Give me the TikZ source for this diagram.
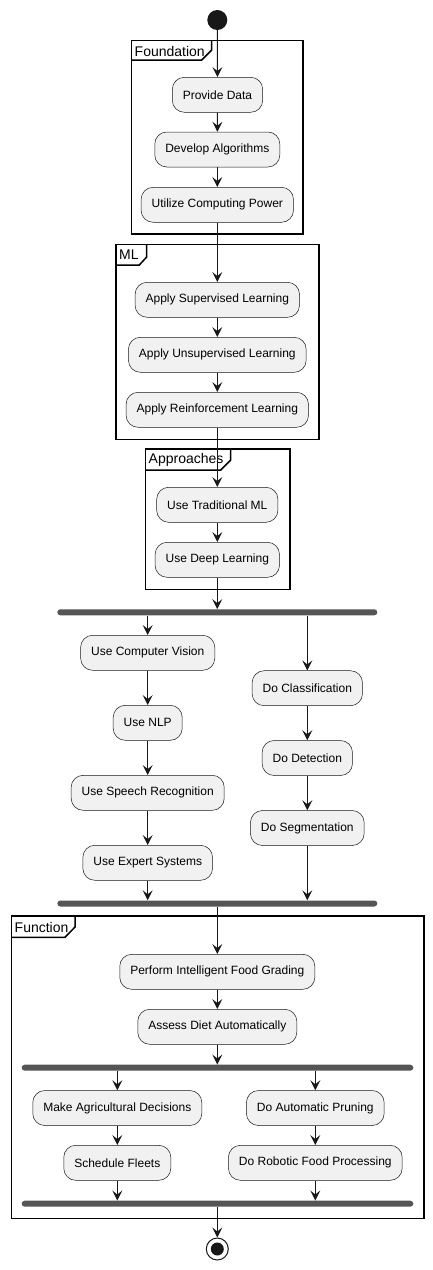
\documentclass[tikz,border=0pt]{standalone}
\usepackage{fontspec}
\setmainfont{Liberation Sans}
\usetikzlibrary{arrows.meta}
\definecolor{boxfill}{HTML}{F1F1F1}
\definecolor{boxline}{HTML}{181818}
\definecolor{barfill}{HTML}{555555}
\begin{document}
\begin{tikzpicture}[x=1pt,y=-1pt,
  act/.style={draw=boxline,line width=0.5pt,fill=boxfill,rounded corners=12pt,
    minimum height=35pt,inner xsep=10.5pt,font=\fontsize{12}{14}\selectfont},
  bar/.style={fill=barfill,rounded corners=3pt,minimum height=6pt,inner sep=0pt},
  arr/.style={draw=boxline,line width=1pt,-{Stealth[length=10pt,width=10pt,inset=4pt]}},
  ln/.style={draw=boxline,line width=1pt},
  frm/.style={draw=black,line width=1.5pt},
  flabel/.style={anchor=west,inner sep=0pt,font=\fontsize{14}{16}\selectfont}]
\useasboundingbox (0,0) rectangle (433,1270);
% frames
\draw[frm] (131.7,40.7) rectangle (303,234);
\draw[frm] (131.7,60) -- (201.7,60) -- (211.7,50) -- (211.7,40.7);
\node[flabel] (lfound) at (134.5,51.5) {Foundation};
\draw[frm] (116,244.3) rectangle (319,439.3);
\draw[frm] (116,265) -- (139.3,265) -- (146.7,257) -- (146.7,244.3);
\node[flabel] (lml) at (119,255) {ML};
\draw[frm] (145.3,449) rectangle (290,589.3);
\draw[frm] (145.3,470) -- (220.7,470) -- (230.7,460) -- (230.7,449);
\node[flabel] (lapp) at (148.5,460) {Approaches};
\draw[frm] (11.7,916) rectangle (424,1218.3);
\draw[frm] (11.7,937.3) -- (65,937.3) -- (75,927) -- (75,916);
\node[flabel] (lfun) at (14.5,927) {Function};
% start
\node[circle,fill=boxline,minimum size=20pt,inner sep=0pt] (start) at (217.3,20) {};
% activities
\node[act] (pd) at (217.5,94.8) {Provide Data};
\node[act] (da) at (217.3,149.5) {Develop Algorithms};
\node[act] (uc) at (217.3,204.8) {Utilize Computing Power};
\node[act] (sl) at (217.3,299.8) {Apply Supervised Learning};
\node[act] (ul) at (217.3,354.8) {Apply Unsupervised Learning};
\node[act] (rl) at (217.3,409.8) {Apply Reinforcement Learning};
\node[act] (tm) at (217.3,504.8) {Use Traditional ML};
\node[act] (dl) at (217.3,559.8) {Use Deep Learning};
\node[bar,minimum width=320pt] (f1) at (217.3,612.3) {};
\node[act] (cv) at (147.7,652.8) {Use Computer Vision};
\node[act] (nlp) at (147.7,722.8) {Use NLP};
\node[act] (sr) at (147.7,792.8) {Use Speech Recognition};
\node[act] (es) at (147.7,862.8) {Use Expert Systems};
\node[act] (cl) at (307.3,688.2) {Do Classification};
\node[act] (de) at (307.3,758) {Do Detection};
\node[act] (sg) at (307.3,828) {Do Segmentation};
\node[bar,minimum width=320pt] (j1) at (217.3,903.5) {};
\node[act] (fg) at (217.3,971.8) {Perform Intelligent Food Grading};
\node[act] (ad) at (217.3,1026.8) {Assess Diet Automatically};
\node[bar,minimum width=391.6pt] (f2) at (217.5,1067.7) {};
\node[act] (ag) at (117.3,1108) {Make Agricultural Decisions};
\node[act] (sf) at (117.3,1162.8) {Schedule Fleets};
\node[act] (ap) at (315.3,1108) {Do Automatic Pruning};
\node[act] (rf) at (315.3,1162.8) {Do Robotic Food Processing};
\node[bar,minimum width=391.6pt] (j2) at (217.5,1203.7) {};
% end
\node[circle,draw=boxline,line width=1pt,fill=white,minimum size=22pt,inner sep=0pt] (endn) at (217.3,1249) {};
\node[circle,fill=boxline,minimum size=13pt,inner sep=0pt] (endi) at (endn) {};
% connectors
\draw[arr] (start) -- (pd);
\draw[arr] (pd) -- (da);
\draw[arr] (da) -- (uc);
\draw[arr] (uc) -- (sl);
\draw[arr] (sl) -- (ul);
\draw[arr] (ul) -- (rl);
\draw[arr] (rl) -- (tm);
\draw[arr] (tm) -- (dl);
\draw[arr] (dl) -- (f1.north -| dl);
\draw[arr] (f1.south -| cv) -- (cv);
\draw[arr] (cv) -- (nlp);
\draw[arr] (nlp) -- (sr);
\draw[arr] (sr) -- (es);
\draw[arr] (es) -- (j1.north -| es);
\draw[arr] (f1.south -| cl) -- (cl);
\draw[arr] (cl) -- (de);
\draw[arr] (de) -- (sg);
\draw[arr] (sg) -- (j1.north -| sg);
\draw[arr] (j1.south -| fg) -- (fg);
\draw[arr] (fg) -- (ad);
\draw[arr] (ad) -- (f2.north -| ad);
\draw[arr] (f2.south -| ag) -- (ag);
\draw[arr] (ag) -- (sf);
\draw[arr] (sf) -- (j2.north -| sf);
\draw[arr] (f2.south -| ap) -- (ap);
\draw[arr] (ap) -- (rf);
\draw[arr] (rf) -- (j2.north -| rf);
\draw[arr] (j2.south -| endn) -- (endn);
\end{tikzpicture}
\end{document}
